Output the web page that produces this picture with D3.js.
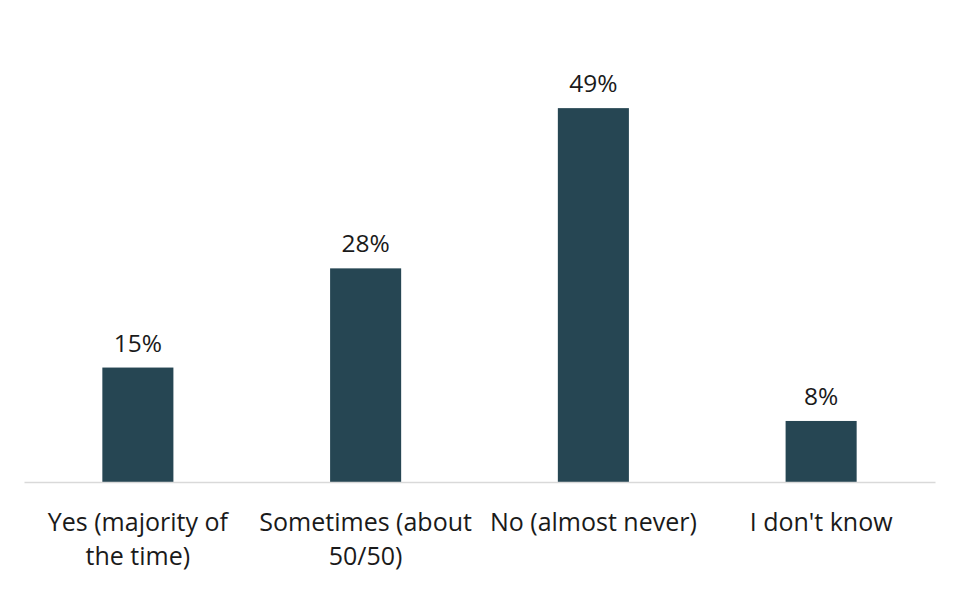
<!DOCTYPE html>
<html>
<head>
<meta charset="utf-8">
<script src="https://cdn.jsdelivr.net/npm/d3@7"></script>
<style>
    body { margin: 0; background: #fff; }
    text { font-family: "Open Sans", "Noto Sans", sans-serif; fill: #1a1a1a; }
</style>
</head>
<body>
<div id="chart"></div>
<script>
// Chart data
const categories = ["Yes (majority of the time)", "Sometimes (about 50/50)", "No (almost never)", "I don't know"];
const values = [15, 28, 49, 8];

const width = 960;
const height = 589;
const baseline = 482;

const svg = d3.select("#chart")
    .append("svg")
    .attr("width", width)
    .attr("height", height);

const x = d3.scaleBand()
    .domain(categories)
    .range([24, 935])
    .paddingInner(0.688)
    .paddingOuter(0.344);

const y = d3.scaleLinear()
    .domain([0, 50])
    .range([baseline, baseline - 381.5]);

// bars
svg.append("g")
    .selectAll("rect")
    .data(values)
    .join("rect")
    .attr("x", (d, i) => x(categories[i]))
    .attr("y", d => y(d))
    .attr("width", x.bandwidth())
    .attr("height", d => y(0) - y(d))
    .attr("fill", "#264653");

// value labels
svg.append("g")
    .selectAll("text")
    .data(values)
    .join("text")
    .attr("x", (d, i) => x(categories[i]) + x.bandwidth() / 2)
    .attr("y", d => y(d) - 16)
    .attr("text-anchor", "middle")
    .style("font-size", "24.5px")
    .text(d => d + "%");

// x axis
const xAxis = svg.append("g")
    .attr("transform", `translate(0,${baseline})`)
    .call(d3.axisBottom(x).tickSize(0).tickPadding(0));

xAxis.select(".domain")
    .attr("stroke", "#d9d9d9")
    .attr("stroke-width", 1.5);

xAxis.selectAll(".tick text")
    .attr("fill", "#1a1a1a")
    .style("font-size", "25px")
    .attr("font-family", null)
    .call(wrap, 215);

function wrap(sel, maxW) {
    sel.each(function() {
        const t = d3.select(this);
        const words = t.text().split(/\s+/);
        t.text(null);
        let line = [];
        let lineNo = 0;
        let tspan = t.append("tspan").attr("x", 0).attr("y", 49);
        words.forEach(w => {
            line.push(w);
            tspan.text(line.join(" "));
            if (tspan.node().getComputedTextLength() > maxW && line.length > 1) {
                line.pop();
                tspan.text(line.join(" "));
                line = [w];
                lineNo++;
                tspan = t.append("tspan").attr("x", 0).attr("y", 49 + lineNo * 34).text(w);
            }
        });
        t.attr("dy", null);
    });
}
</script>
</body>
</html>
